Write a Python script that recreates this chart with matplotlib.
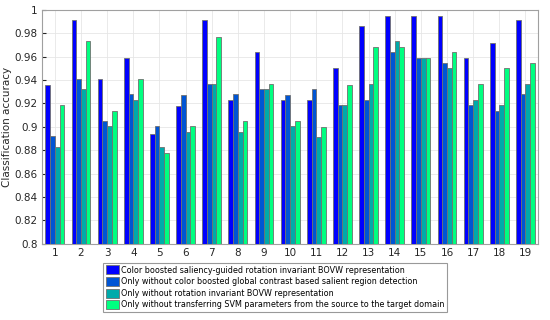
import numpy as np
import matplotlib.pyplot as plt

# Classification accuracy per dataset
groups = list(range(1, 20))
full = [0.936, 0.991, 0.941, 0.959, 0.894, 0.918, 0.991, 0.923, 0.964, 0.923,
        0.923, 0.950, 0.986, 0.995, 0.995, 0.995, 0.959, 0.972, 0.991]
no_salient = [0.892, 0.941, 0.905, 0.928, 0.901, 0.927, 0.937, 0.928, 0.932, 0.927,
              0.932, 0.919, 0.923, 0.964, 0.959, 0.955, 0.919, 0.914, 0.928]
no_rotation = [0.883, 0.932, 0.901, 0.923, 0.883, 0.896, 0.937, 0.896, 0.932, 0.901,
               0.891, 0.919, 0.937, 0.973, 0.959, 0.950, 0.923, 0.919, 0.937]
no_transfer = [0.919, 0.973, 0.914, 0.941, 0.878, 0.901, 0.977, 0.905, 0.937, 0.905,
               0.900, 0.936, 0.968, 0.968, 0.959, 0.964, 0.937, 0.950, 0.955]
labels = ['Color boosted saliency-guided rotation invariant BOVW representation',
          'Only without color boosted global contrast based salient region detection',
          'Only without rotation invariant BOVW representation',
          'Only without transferring SVM parameters from the source to the target domain']
colors = ['#0000ff', '#0055d4', '#00aaaa', '#00ff80']

fig = plt.figure(figsize=(5.5, 3.2), dpi=100)
ax = fig.add_axes([0.076, 0.238, 0.903, 0.731])

x = np.array(groups)
w = 0.18
for i, vals in enumerate([full, no_salient, no_rotation, no_transfer]):
    ax.bar(x + (i - 1.5) * w, vals, w, color=colors[i], edgecolor='#707070',
           linewidth=0.6, label=labels[i], zorder=3)

ax.set_xlim(0.5, 19.5)
ax.set_ylim(0.8, 1.0)
ax.set_xticks(x)
ax.set_yticks(np.arange(0.8, 1.001, 0.02))
ax.set_yticklabels(['0.8', '0.82', '0.84', '0.86', '0.88', '0.9', '0.92', '0.94', '0.96', '0.98', '1'])
ax.tick_params(labelsize=7.5, colors='#262626', direction='in', length=3, pad=3)
ax.set_ylabel('Classification accuracy', fontsize=7.5, color='#262626', labelpad=2)
ax.grid(True, color='#e6e6e6', linewidth=0.6, zorder=0)
for s in ax.spines.values():
    s.set_color('#a0a0a0')

leg = ax.legend(loc='upper left', bbox_to_anchor=(0.123, -0.08), fontsize=5.8,
                frameon=True, fancybox=False, borderpad=0.35, labelspacing=0.3,
                handlelength=1.7, handleheight=1.35, handletextpad=0.15, borderaxespad=0)
leg.get_frame().set_edgecolor('#808080')
leg.get_frame().set_linewidth(0.8)

plt.savefig('out.png')
